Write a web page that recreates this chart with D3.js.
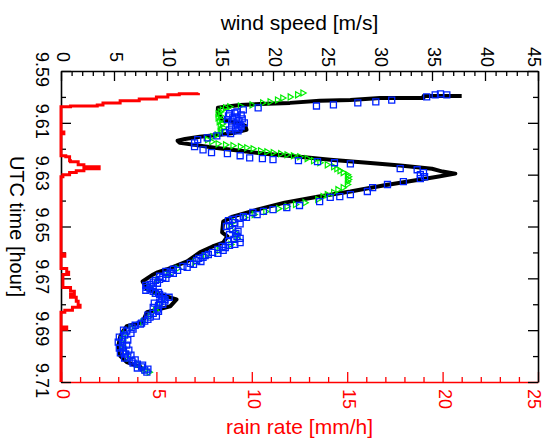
<!DOCTYPE html>
<html><head><meta charset="utf-8">
<script src="https://cdn.jsdelivr.net/npm/d3@7"></script>
<style>
html,body{margin:0;padding:0;background:#fff;}
svg{display:block;font-family:"Liberation Sans",Arial,sans-serif;}
</style></head><body>
<svg id="chart" width="545" height="441"></svg>
<script>
// Axis tick values
const timeTicks = [9.59, 9.61, 9.63, 9.65, 9.67, 9.69, 9.71];
const windTicks = [0, 5, 10, 15, 20, 25, 30, 35, 40, 45];
const rainTicks = [0, 5, 10, 15, 20, 25];

// Rain rate [mm/h] versus UTC time
const rainTime = [9.5985, 9.5988, 9.5992, 9.6000, 9.6008, 9.6015, 9.6023, 9.6031, 9.6035, 9.6038,
  9.6120, 9.6135, 9.6142, 9.6220, 9.6227, 9.6231, 9.6246, 9.6250, 9.6262, 9.6269, 9.6277, 9.6285,
  9.6292, 9.6300, 9.6308, 9.6600, 9.6606, 9.6615, 9.6654, 9.6662, 9.6677, 9.6685, 9.6727, 9.6735,
  9.6750, 9.6762, 9.6773, 9.6788, 9.6804, 9.6812, 9.6823, 9.6831, 9.6881, 9.6888, 9.6896, 9.7100];
const rainRate = [7.2, 6.2, 5.6, 5.0, 4.1, 3.1, 2.2, 1.9, 0.5, 0.0,
  0.0, 0.15, 0.0, 0.0, 0.25, 0.45, 0.5, 0.9, 1.2, 2.0, 1.2, 0.8,
  0.45, 0.1, 0.0, 0.0, 0.2, 0.0, 0.0, 0.3, 0.4, 0.1, 0.1, 0.5,
  0.7, 0.5, 0.8, 0.9, 1.0, 0.6, 0.2, 0.0, 0.0, 0.3, 0.0, 0.0];

// Wind speed [m/s], continuous record (black)
const lineTime = [9.5996, 9.5996, 9.6004, 9.6004, 9.6012, 9.6015, 9.6023, 9.6027, 9.6031, 9.6038,
  9.6042, 9.6058, 9.6073, 9.6088, 9.6100, 9.6112, 9.6127, 9.6138, 9.6146, 9.6154, 9.6162, 9.6169,
  9.6177, 9.6185, 9.6196, 9.6208, 9.6219, 9.6231, 9.6242, 9.6254, 9.6265, 9.6277, 9.6288, 9.6296,
  9.6308, 9.6327, 9.6342, 9.6365, 9.6385, 9.6408, 9.6435, 9.6462, 9.6481, 9.6523, 9.6538, 9.6562,
  9.6577, 9.6600, 9.6635, 9.6665, 9.6677, 9.6685, 9.6712, 9.6742, 9.6762, 9.6781, 9.6808, 9.6831,
  9.6869, 9.6885, 9.6908, 9.6923, 9.6962, 9.7000, 9.7023, 9.7042, 9.7058];
const lineWind = [37.8, 34.2, 34.2, 30.1, 27.3, 24.4, 21.6, 18.8, 16.9, 15.5,
  14.8, 14.8, 15.0, 15.2, 16.7, 17.4, 17.5, 16.4, 15.0, 13.1, 11.7, 11.0,
  11.2, 12.6, 14.5, 16.9, 19.2, 22.5, 25.4, 28.9, 32.0, 35.0, 36.0, 37.2,
  35.5, 32.6, 30.4, 27.3, 24.2, 21.1, 18.5, 16.2, 15.3, 15.2, 15.7, 15.3,
  14.3, 13.1, 11.9, 10.0, 9.1, 8.7, 7.7, 8.1, 9.3, 10.9, 10.3, 8.1,
  7.7, 6.2, 5.8, 5.6, 5.4, 5.6, 6.2, 7.5, 7.7];

// Wind speed [m/s], square markers (blue)
const blueTime = [9.5992, 9.5988, 9.5992, 9.6000, 9.6012, 9.6019, 9.6023, 9.6031, 9.6035, 9.6042,
  9.6050, 9.6058, 9.6065, 9.6073, 9.6081, 9.6088, 9.6096, 9.6104, 9.6112, 9.6119, 9.6127, 9.6138,
  9.6150, 9.6158, 9.6165, 9.6177, 9.6192, 9.6204, 9.6215, 9.6219, 9.6227, 9.6235, 9.6238, 9.6242,
  9.6246, 9.6250, 9.6254, 9.6258, 9.6277, 9.6281, 9.6292, 9.6300, 9.6308, 9.6315, 9.6327, 9.6338,
  9.6350, 9.6365, 9.6377, 9.6385, 9.6388, 9.6404, 9.6419, 9.6427, 9.6435, 9.6442, 9.6446, 9.6454,
  9.6462, 9.6465, 9.6473, 9.6485, 9.6496, 9.6512, 9.6527, 9.6538, 9.6550, 9.6562, 9.6573, 9.6581,
  9.6588, 9.6600, 9.6612, 9.6619, 9.6631, 9.6646, 9.6654, 9.6665, 9.6677, 9.6685, 9.6696, 9.6704,
  9.6715, 9.6723, 9.6735, 9.6742, 9.6750, 9.6762, 9.6769, 9.6781, 9.6792, 9.6804, 9.6819, 9.6835,
  9.6850, 9.6865, 9.6877, 9.6888, 9.6904, 9.6919, 9.6935, 9.6950, 9.6965, 9.6981, 9.6992, 9.7004,
  9.7019, 9.7031, 9.7042, 9.7054, 9.7062,
  9.6062, 9.6069, 9.6077, 9.6085, 9.6092, 9.6100, 9.6108, 9.6115, 9.6123, 9.6131, 9.6142,
  9.6469, 9.6477, 9.6490, 9.6500, 9.6519, 9.6531, 9.6546, 9.6558, 9.6569, 9.6577, 9.6592, 9.6604,
  9.6608, 9.6623, 9.6635, 9.6642, 9.6658, 9.6669, 9.6673, 9.6681, 9.6692, 9.6700, 9.6708, 9.6719,
  9.6727, 9.6731, 9.6746, 9.6754, 9.6758, 9.6773, 9.6777, 9.6788, 9.6796, 9.6800, 9.6812, 9.6827,
  9.6842, 9.6846, 9.6858, 9.6873, 9.6881, 9.6896, 9.6900, 9.6912, 9.6927, 9.6938, 9.6946, 9.6958,
  9.6969, 9.6977, 9.6988, 9.6996, 9.7008, 9.7015, 9.7027, 9.7035, 9.7046, 9.7050];
const blueWind = [36.4, 35.8, 35.3, 34.5, 31.2, 29.7, 28.0, 25.7, 24.1, 18.6,
  17.2, 16.6, 15.9, 15.8, 16.2, 15.7, 16.1, 16.6, 16.1, 16.5, 15.9, 15.5,
  14.7, 13.8, 12.9, 12.6, 12.6, 13.4, 14.2, 15.7, 16.9, 17.8, 19.0, 20.0,
  22.4, 24.2, 25.8, 27.3, 32.0, 33.6, 34.2, 33.9, 34.3, 33.9, 32.3, 30.8,
  29.4, 28.9, 27.3, 26.3, 25.4, 24.4, 22.5, 21.3, 20.0, 19.1, 18.1, 18.5,
  17.2, 17.5, 16.2, 16.4, 15.9, 16.2, 16.5, 16.6, 16.3, 16.9, 15.9, 15.5,
  14.8, 14.3, 13.6, 13.4, 12.8, 12.5, 11.5, 10.6, 10.3, 10.0, 9.6, 9.3,
  8.7, 8.4, 8.1, 8.4, 8.7, 9.3, 9.6, 9.8, 9.3, 9.2, 9.1, 8.7,
  8.4, 7.9, 7.5, 6.7, 6.2, 6.0, 5.8, 5.8, 5.8, 5.9, 6.1, 6.3,
  6.7, 7.2, 7.6, 7.9, 8.1,
  16.4, 17.0, 16.6, 17.1, 16.8, 17.3, 16.9, 17.0, 16.8, 16.7, 16.0,
  16.8, 15.8, 16.9, 15.6, 16.7, 15.9, 16.9, 15.8, 16.4, 15.2, 15.3, 14.8,
  13.9, 13.0, 13.2, 12.2, 11.9, 11.0, 9.9, 10.6, 9.3, 9.9, 8.9, 9.1,
  8.0, 8.7, 8.0, 9.2, 8.9, 10.2, 9.5, 9.8, 8.8, 9.6, 8.7, 9.2,
  8.2, 9.0, 8.2, 7.6, 7.0, 6.8, 5.9, 6.6, 5.5, 6.3, 5.4, 6.2,
  5.5, 6.4, 5.6, 6.6, 6.0, 7.0, 6.8, 7.7, 7.2, 8.2];

// Wind speed [m/s], triangle markers (green)
const greenTime = [9.5985, 9.5992, 9.6000, 9.6004, 9.6012, 9.6019, 9.6023, 9.6031, 9.6035, 9.6038,
  9.6042, 9.6050, 9.6058, 9.6065, 9.6073, 9.6081, 9.6088, 9.6096, 9.6104, 9.6112, 9.6119, 9.6127,
  9.6135, 9.6146, 9.6154, 9.6165, 9.6173, 9.6181, 9.6185, 9.6188, 9.6192, 9.6196, 9.6200, 9.6208,
  9.6212, 9.6215, 9.6219, 9.6223, 9.6227, 9.6231, 9.6238, 9.6246, 9.6254, 9.6262, 9.6269, 9.6277,
  9.6285, 9.6292, 9.6300, 9.6308, 9.6319, 9.6327, 9.6338, 9.6350, 9.6358, 9.6369, 9.6377, 9.6385,
  9.6396, 9.6408, 9.6415, 9.6423, 9.6431, 9.6442, 9.6454, 9.6465, 9.6481, 9.6500, 9.6523, 9.6546,
  9.6569, 9.6592, 9.6615, 9.6638, 9.6662, 9.6685, 9.6708, 9.6731, 9.6754, 9.6777, 9.6800, 9.6823,
  9.6846, 9.6869, 9.6892, 9.6915, 9.6938, 9.6962, 9.6985, 9.7008, 9.7031, 9.7054, 9.7062];
const greenWind = [22.8, 22.3, 21.6, 20.9, 20.4, 19.7, 19.0, 18.0, 16.9, 15.9,
  15.5, 15.2, 15.0, 14.8, 15.0, 14.8, 15.1, 14.9, 15.2, 15.0, 15.3, 15.1,
  15.0, 14.7, 14.3, 13.8, 14.2, 14.8, 15.5, 16.2, 16.9, 17.5, 18.1, 18.8,
  19.4, 20.0, 20.7, 21.3, 21.9, 22.5, 23.2, 23.8, 24.4, 25.1, 25.7, 26.0,
  26.3, 26.6, 27.0, 27.1, 27.1, 27.0, 27.0, 26.6, 26.1, 25.7, 25.1, 24.7,
  24.2, 23.0, 22.1, 21.3, 20.5, 19.3, 18.2, 17.3, 16.3, 16.0, 16.4, 16.6,
  16.0, 14.9, 13.6, 12.6, 11.0, 10.1, 9.1, 8.3, 8.8, 9.7, 9.3, 8.9,
  8.4, 7.7, 6.6, 6.0, 5.8, 5.8, 6.0, 6.4, 7.2, 7.9, 8.3];

const plot = { left: 61, right: 538, top: 71, bottom: 382 };
const svg = d3.select("#chart");

const y = d3.scaleLinear().domain([9.59, 9.71]).range([plot.top, plot.bottom]);
const xWind = d3.scaleLinear().domain([0, 45]).range([plot.left, plot.right]);
const xRain = d3.scaleLinear().domain([0, 25]).range([plot.left, plot.right]);

const tickFont = 18;
const fmtTime = d3.format(".2f");
const timeMinor = d3.range(0, 13).map(i => +(9.59 + i * 0.01).toFixed(2));
const isTimeMajor = d => timeTicks.some(t => Math.abs(t - d) < 1e-6);

function styleAxis(g, color) {
  g.attr("font-size", tickFont).attr("font-family", null).style("color", color);
  g.select(".domain").attr("stroke-width", 1.6);
  g.selectAll(".tick line").attr("stroke-width", 1.3);
}

// keeps the outermost rotated labels inside the frame
const edgeNudge = (d, last) => d === last ? -4 : 2;

// Top axis: wind speed
const gTop = svg.append("g").attr("transform", `translate(0,${plot.top})`)
  .call(d3.axisBottom(xWind).tickValues(d3.range(0, 46)).tickSizeInner(5).tickSizeOuter(0)
    .tickFormat(d => windTicks.includes(d) ? d : ""));
styleAxis(gTop, "#000");
gTop.selectAll(".tick line").attr("y2", d => windTicks.includes(d) ? 10 : 5);
gTop.selectAll(".tick text").attr("x", 0).attr("y", 0).attr("dy", "0.35em")
  .attr("text-anchor", "middle")
  .attr("transform", d => `translate(${edgeNudge(d, 45)},-14) rotate(90)`);

// Bottom axis: rain rate
const gBot = svg.append("g").attr("transform", `translate(0,${plot.bottom})`)
  .call(d3.axisTop(xRain).tickValues(d3.range(0, 26)).tickSizeInner(5).tickSizeOuter(0)
    .tickFormat(d => rainTicks.includes(d) ? d : ""));
styleAxis(gBot, "#ff0000");
gBot.selectAll(".tick line").attr("y2", d => rainTicks.includes(d) ? -10 : -5);
gBot.selectAll(".tick text").attr("x", 0).attr("y", 0).attr("dy", "0.35em")
  .attr("text-anchor", "start")
  .attr("transform", d => `translate(${edgeNudge(d, 25)},7) rotate(90)`);

// Left axis: UTC time
const gLeft = svg.append("g").attr("transform", `translate(${plot.left},0)`)
  .call(d3.axisRight(y).tickValues(timeMinor).tickSizeInner(5).tickSizeOuter(0)
    .tickFormat(d => isTimeMajor(d) ? fmtTime(d) : ""));
styleAxis(gLeft, "#000");
gLeft.selectAll(".tick line").attr("x2", d => isTimeMajor(d) ? 10 : 5);
gLeft.selectAll(".tick text").attr("x", 0).attr("y", 0).attr("dy", "0.35em")
  .attr("text-anchor", "middle").attr("transform", "translate(-19,-2) rotate(90)");

// Right axis: UTC time, ticks only
const gRight = svg.append("g").attr("transform", `translate(${plot.right},0)`)
  .call(d3.axisLeft(y).tickValues(timeMinor).tickSizeInner(5).tickSizeOuter(0).tickFormat(""));
styleAxis(gRight, "#000");
gRight.selectAll(".tick line").attr("x2", d => isTimeMajor(d) ? -10 : -5);

// Axis titles
svg.append("text").attr("x", (plot.left + plot.right) / 2).attr("y", 29.5)
  .attr("text-anchor", "middle").attr("font-size", 21).attr("fill", "#000")
  .text("wind speed [m/s]");
svg.append("text").attr("x", (plot.left + plot.right) / 2).attr("y", 434)
  .attr("text-anchor", "middle").attr("font-size", 21).attr("fill", "#ff0000")
  .text("rain rate [mm/h]");
svg.append("text").attr("transform", `translate(17,${(plot.top + plot.bottom) / 2}) rotate(90)`)
  .attr("dy", "0.35em").attr("text-anchor", "middle").attr("font-size", 20).attr("fill", "#000")
  .text("UTC time [hour]");

// Rain rate trace
const rain = rainTime.map((t, i) => ({ t, v: rainRate[i] }));
svg.append("path").datum(rain)
  .attr("d", d3.line().x(d => xRain(d.v)).y(d => y(d.t)).curve(d3.curveStepBefore))
  .attr("fill", "none").attr("stroke", "#ff0000").attr("stroke-width", 3);

// Continuous wind speed trace
const wind = lineTime.map((t, i) => ({ t, v: lineWind[i] }));
svg.append("path").datum(wind)
  .attr("d", d3.line().x(d => xWind(d.v)).y(d => y(d.t)))
  .attr("fill", "none").attr("stroke", "#000").attr("stroke-width", 4)
  .attr("stroke-linejoin", "round");

// Triangle markers
const tri = d3.symbol().type(d3.symbolTriangle).size(16);
svg.append("g").selectAll("path")
  .data(greenTime.map((t, i) => ({ t, v: greenWind[i] })))
  .join("path")
  .attr("transform", d => `translate(${xWind(d.v)},${y(d.t)}) rotate(90)`)
  .attr("d", tri).attr("fill", "none").attr("stroke", "#00ee00").attr("stroke-width", 1.2);

// Square markers
const sq = d3.symbol().type(d3.symbolSquare).size(36);
svg.append("g").selectAll("path")
  .data(blueTime.map((t, i) => ({ t, v: blueWind[i] })))
  .join("path")
  .attr("transform", d => `translate(${xWind(d.v)},${y(d.t)})`)
  .attr("d", sq).attr("fill", "none").attr("stroke", "#0022ff").attr("stroke-width", 1.3);
</script>
</body></html>
